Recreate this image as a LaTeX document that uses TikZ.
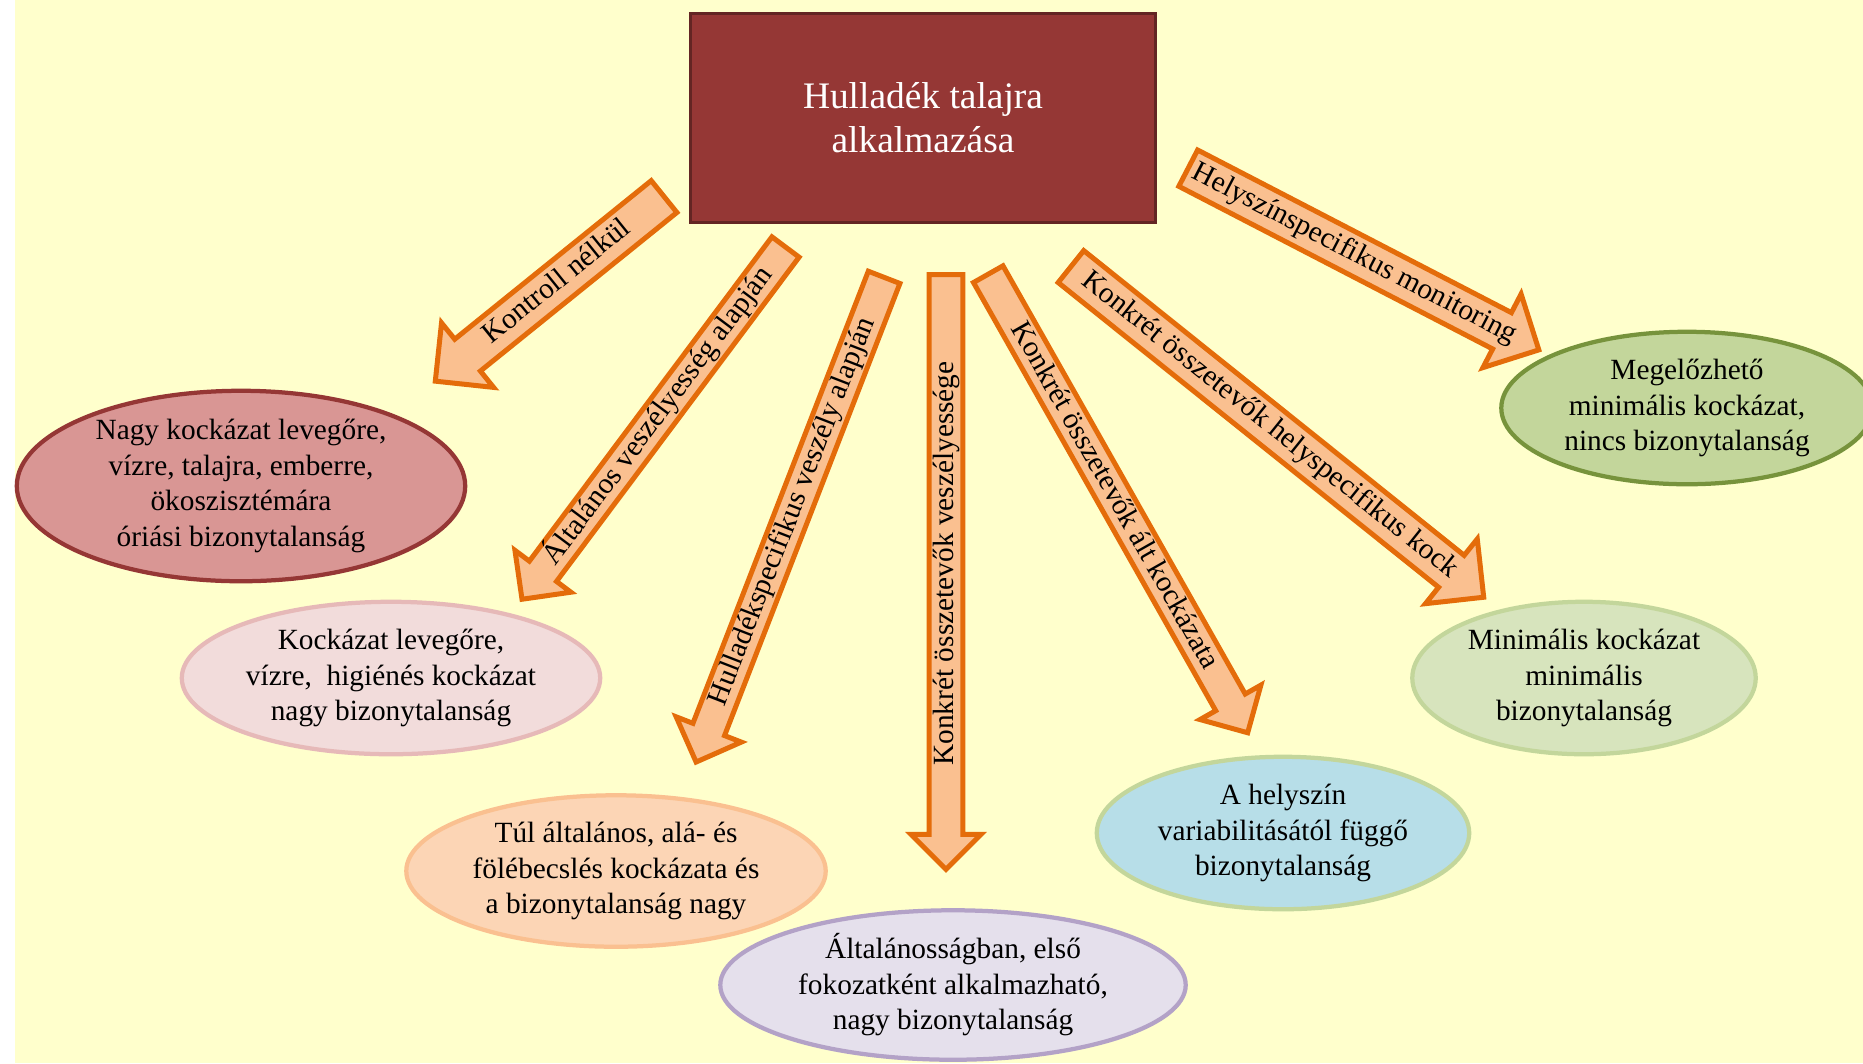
\documentclass[tikz,border=0pt]{standalone}
\usepackage{fontspec}
\setmainfont{Liberation Serif}
\usetikzlibrary{shapes.geometric,shapes.arrows}
\definecolor{bgyellow}{HTML}{FFFFCC}
\definecolor{hubfill}{HTML}{953735}
\definecolor{hubline}{HTML}{632523}
\definecolor{arrfill}{HTML}{FAC090}
\definecolor{arrline}{HTML}{E46C0A}

\begin{document}
\begin{tikzpicture}[
  x=0.02cm, y=-0.02cm,
  font=\fontsize{16.7}{20.2}\selectfont,
  hub/.style={draw=hubline, fill=hubfill, line width=0.06cm, minimum width=9.3cm,
              minimum height=4.18cm, align=center, text=white,
              font=\fontsize{21.3}{25}\selectfont},
  bubble/.style={ellipse, line width=0.085cm, align=center, inner sep=0pt},
  pointer/.style={single arrow, draw=arrline, fill=arrfill, line width=0.1cm,
                  single arrow tip angle=90, inner xsep=0pt, anchor=tail,
                  text height=0.4cm, text depth=0.118cm},
  slim/.style={pointer, inner ysep=0.03cm, single arrow head extend=0.36cm},
  broad/.style={pointer, inner ysep=0.1cm, single arrow head extend=0.42cm},
  back/.style={shape border rotate=180},
]
\useasboundingbox (0,0) rectangle (1863,1063);
\clip (0,0) rectangle (1863,1063);
\fill[white] (0,0) rectangle (1863,1063);
\fill[bgyellow] (15,0) rectangle (1863,1063);

%% ---------- centre box ----------
\node[hub] (app) at (923,118) {Hulladék talajra\\alkalmazása};

%% ---------- outcomes ----------
\node[bubble, draw=hubfill, fill={rgb,255:red,217;green,150;blue,148},
      minimum width=8.97cm, minimum height=3.81cm] (nocontrol) at (241,486)
  {Nagy kockázat levegőre,\\vízre, talajra, emberre,\\ökoszisztémára\\óriási bizonytalanság};
\node[bubble, draw={rgb,255:red,230;green,185;blue,184}, fill={rgb,255:red,242;green,220;blue,219},
      minimum width=8.37cm, minimum height=3.05cm] (hazard) at (391,678)
  {Kockázat levegőre,\\vízre,\ \ higiénés kockázat\\nagy bizonytalanság};
\node[bubble, draw=arrfill, fill={rgb,255:red,252;green,213;blue,181},
      minimum width=8.39cm, minimum height=3.03cm] (wastespec) at (616,871)
  {Túl általános, alá- és\\fölébecslés kockázata és\\a bizonytalanság nagy};
\node[bubble, draw={rgb,255:red,179;green,162;blue,199}, fill={rgb,255:red,229;green,224;blue,236},
      minimum width=9.31cm, minimum height=2.99cm] (compo) at (953,985)
  {Általánosságban, első\\fokozatként alkalmazható,\\nagy bizonytalanság};
\node[bubble, draw={rgb,255:red,195;green,214;blue,155}, fill={rgb,255:red,183;green,222;blue,232},
      minimum width=7.45cm, minimum height=3.05cm] (compogen) at (1283,833)
  {A helyszín\\variabilitásától függő\\bizonytalanság};
\node[bubble, draw={rgb,255:red,195;green,214;blue,155}, fill={rgb,255:red,215;green,228;blue,189},
      minimum width=6.87cm, minimum height=3.05cm] (compsite) at (1584,678)
  {Minimális kockázat\\minimális\\bizonytalanság};
\node[bubble, draw={rgb,255:red,119;green,147;blue,60}, fill={rgb,255:red,195;green,214;blue,155},
      minimum width=7.43cm, minimum height=3.05cm] (monitor) at (1687,408)
  {Megelőzhető\\minimális kockázat,\\nincs bizonytalanság};

%% ---------- block arrows ----------
\node[broad, back, rotate=38.9, minimum height=5.88cm] (a1) at (666,195) {Kontroll nélkül};
\node[slim, back, rotate=53.2, minimum height=8.8cm] (a2) at (787,245) {Általános veszélyesség alapján};
\node[slim, back, rotate=68.8, minimum height=10.4cm] (a3) at (885,275) {Hulladékspecifikus veszély alapján};
\node[slim, back, rotate=90, minimum height=11.9cm] (a4) at (946,272) {Konkrét összetevők veszélyessége};
\node[slim, rotate=-60.5, minimum height=10.54cm] (a5) at (987,272) {Konkrét összetevők ált kockázata};
\node[broad, rotate=-38.7, minimum height=10.58cm] (a6) at (1069,265) {Konkrét összetevők helyspecifikus kock};
\node[broad, rotate=-27.4, minimum height=7.9cm] (a7) at (1186,167) {Helyszínspecifikus monitoring};

\end{tikzpicture}
\end{document}
